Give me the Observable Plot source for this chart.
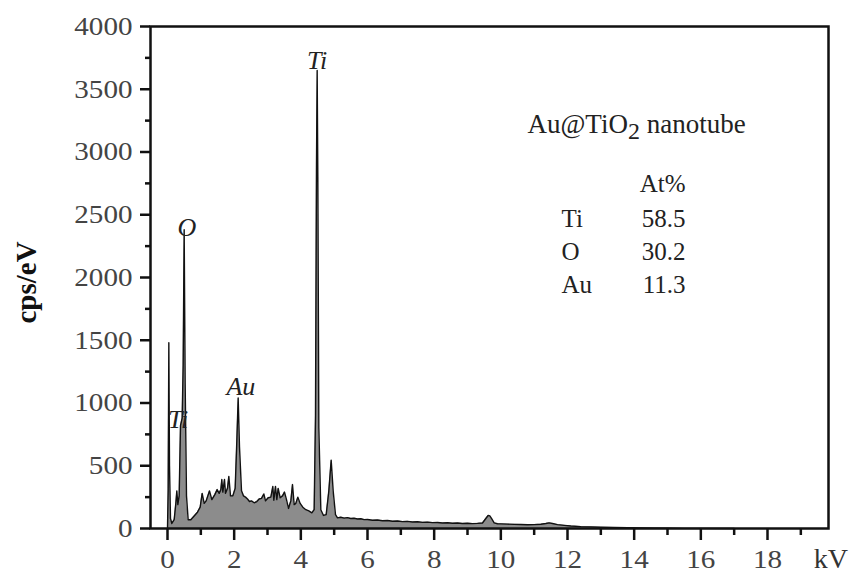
<!DOCTYPE html>
<html>
<head>
<meta charset="utf-8">
<script src="https://cdn.jsdelivr.net/npm/d3@7"></script>
<script src="https://cdn.jsdelivr.net/npm/@observablehq/plot@0.6"></script>
<style>
  html, body { margin: 0; padding: 0; background: #fff; }
  #chart { width: 855px; height: 576px; }
  #chart svg text { font-family: 'Liberation Serif', 'Times New Roman', serif; }
</style>
</head>
<body>
<div id="chart"></div>
<script>
// EDS spectrum: energy (kV) and counts (cps/eV)
const kv = [
  0.00, 0.02, 0.04, 0.06, 0.09, 0.13, 0.20, 0.25, 0.28, 0.31, 0.35, 0.39, 0.44, 0.47, 0.50, 0.53, 0.57, 0.62,
  0.70, 0.80, 0.90, 0.98, 1.04, 1.10, 1.16, 1.26, 1.33, 1.42, 1.49, 1.55, 1.60, 1.63, 1.66, 1.71, 1.74, 1.80,
  1.84, 1.89, 1.96, 2.03, 2.08, 2.12, 2.16, 2.22, 2.28, 2.34, 2.40, 2.46, 2.52, 2.60, 2.68, 2.75, 2.82, 2.89,
  2.94, 3.02, 3.10, 3.16, 3.19, 3.24, 3.28, 3.32, 3.38, 3.45, 3.51, 3.57, 3.63, 3.70, 3.75, 3.80, 3.85, 3.91,
  3.98, 4.06, 4.15, 4.24, 4.33, 4.40, 4.44, 4.47, 4.49, 4.51, 4.54, 4.60, 4.68, 4.76, 4.84, 4.91, 4.97, 5.04,
  5.10, 5.20, 5.30, 5.40, 5.50, 5.60, 5.70, 5.80, 5.90, 6.00, 6.15, 6.30, 6.45, 6.60, 6.75, 6.90, 7.05, 7.20,
  7.35, 7.50, 7.65, 7.80, 7.95, 8.10, 8.25, 8.40, 8.55, 8.70, 8.85, 9.00, 9.15, 9.30, 9.45, 9.55, 9.62, 9.67,
  9.72, 9.80, 9.90, 10.0, 10.2, 10.4, 10.6, 10.8, 11.0, 11.2, 11.35, 11.45, 11.55, 11.7, 11.9, 12.1, 12.4,
  12.7, 13.0, 13.4, 13.8, 14.2, 14.6, 15.0, 15.5, 16.0, 17.0
];
const cps = [
  0, 300, 1480, 500, 80, 40, 70, 200, 300, 190, 260, 820, 880, 1300, 2380, 1150, 260, 70,
  70, 100, 130, 170, 280, 200, 220, 300, 230, 270, 310, 280, 310, 390, 290, 390, 280, 320,
  415, 260, 260, 320, 700, 1040, 650, 300, 260, 250, 235, 215, 220, 205, 215, 235, 240, 275,
  220, 245, 250, 335, 225, 335, 230, 320, 245, 260, 290, 230, 160, 220, 350, 190, 200, 250,
  200, 170, 150, 140, 125, 150, 900, 2900, 3650, 2800, 800, 150, 104, 110, 300, 545, 300, 110,
  85, 90, 83, 87, 80, 82, 76, 78, 71, 72, 66, 68, 62, 64, 58, 60, 55, 57,
  52, 54, 49, 51, 47, 48, 44, 46, 42, 44, 40, 42, 39, 41, 44, 80, 104, 100,
  80, 45, 38, 37, 35, 33, 32, 30, 31, 34, 40, 45, 40, 31, 25, 20, 15,
  13, 10, 8, 6, 4, 3, 2, 1, 1, 0
];

// peak labels
const peakNames = ["Ti", "O", "Ti", "Au"];
const peakKv = [4.49, 0.58, 0.32, 2.2];
const peakCps = [3660, 2330, 800, 1060];

// composition table
const sampleName = "Au@TiO2 nanotube";
const elements = ["Ti", "O", "Au"];
const atPercent = ["58.5", "30.2", "11.3"];
const atHeader = "At%";

// axis ticks
const xMajor = d3.range(0, 19, 2);
const xMinor = d3.range(1, 20, 2);
const yMajor = d3.range(0, 4001, 500);
const yMinor = d3.range(250, 4000, 500);

const spectrum = kv.map((x, i) => ({x, y: cps[i]}));
const peaks = peakNames.map((name, i) => ({name, x: peakKv[i], y: peakCps[i]}));
const rowY = [2401, 2136, 1873];
const table = elements.map((el, i) => ({el, v: atPercent[i], y: rowY[i]}));

const serif = "'Liberation Serif', 'Times New Roman', serif";

const chart = Plot.plot({
  width: 855,
  height: 576,
  marginLeft: 150,
  marginRight: 27,
  marginTop: 26,
  marginBottom: 48,
  style: {fontFamily: serif, background: "#fff", overflow: "visible"},
  x: {domain: [-0.51, 19.83]},
  y: {domain: [0, 4000]},
  marks: [
    Plot.areaY(spectrum, {x: "x", y: "y", fill: "#8c8c8c"}),
    Plot.lineY(spectrum, {x: "x", y: "y", stroke: "#111", strokeWidth: 1.4}),
    Plot.frame({stroke: "#111", strokeWidth: 2.5}),
    Plot.axisY(yMajor, {tickSize: 10, tickPadding: 8, fontSize: 26, fontFamily: serif, tickFormat: d => String(d), stroke: "#111", strokeWidth: 2.5, fill: "#444", label: null}),
    Plot.axisY(yMinor, {tickSize: 5, stroke: "#111", strokeWidth: 2.5, text: null, label: null}),
    Plot.axisX(xMajor, {tickSize: 12, tickPadding: 9, fontSize: 26, fontFamily: serif, tickFormat: d => String(d), stroke: "#111", strokeWidth: 2.5, fill: "#444", label: null}),
    Plot.axisX(xMinor, {tickSize: 7, stroke: "#111", strokeWidth: 2.5, text: null, label: null}),
    Plot.text(peaks, {x: "x", y: "y", text: "name", fontSize: 26, fontStyle: "italic", fill: "#222", textAnchor: "middle", lineAnchor: "bottom"}),
    Plot.text([sampleName], {x: 10.8, y: 3150, text: d => d, fontSize: 27, fill: "#222", textAnchor: "start", lineAnchor: "bottom"}),
    Plot.text([atHeader], {x: 15.54, y: 2678, text: d => d, fontSize: 25, fill: "#222", textAnchor: "end", lineAnchor: "bottom"}),
    Plot.text(table, {x: 11.82, y: "y", text: "el", fontSize: 25, fill: "#222", textAnchor: "start", lineAnchor: "bottom"}),
    Plot.text(table, {x: 15.54, y: "y", text: "v", fontSize: 25, fill: "#222", textAnchor: "end", lineAnchor: "bottom"}),
    Plot.text(["kV"], {x: 19.9, y: 0, text: d => d, dy: 31, fontSize: 28, fill: "#333", textAnchor: "middle", lineAnchor: "middle"}),
    Plot.text(["cps/eV"], {frameAnchor: "left", dx: -124, dy: 5, text: d => d, rotate: -90, fontSize: 29, fontWeight: "bold", fill: "#111", textAnchor: "middle", lineAnchor: "middle"})
  ]
});

document.getElementById("chart").appendChild(chart);

// widen tick labels to match the stretched serif digits of the original
chart.querySelectorAll('g[aria-label$="tick label"] text').forEach(t => {
  const tr = t.getAttribute("transform") || "";
  t.setAttribute("transform", tr + " scale(1.12,1)");
});

// subscript 2 in the sample name
chart.querySelectorAll("text").forEach(t => {
  if (t.textContent === sampleName) {
    t.textContent = "";
    const ns = "http://www.w3.org/2000/svg";
    const a = document.createElementNS(ns, "tspan"); a.textContent = "Au@TiO";
    const b = document.createElementNS(ns, "tspan"); b.textContent = "2"; b.setAttribute("dy", "6"); b.setAttribute("font-size", "24");
    const c = document.createElementNS(ns, "tspan"); c.textContent = " nanotube"; c.setAttribute("dy", "-6");
    t.append(a, b, c);
  }
});
</script>
</body>
</html>
